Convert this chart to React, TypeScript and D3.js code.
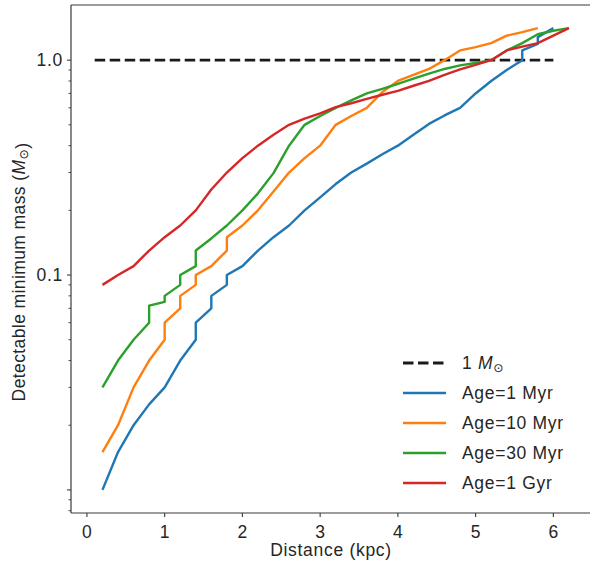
import React from "react";
import * as d3 from "d3";

const W = 590;
const H = 565;
const plot = { left: 71, right: 592.6, top: 5, bottom: 513 };

// Age = 1 Myr (repeated distances mark the vertical steps)
const distance1Myr = [0.2, 0.4, 0.6, 0.8, 1.0, 1.2, 1.4, 1.4, 1.6, 1.6, 1.8, 1.8, 2.0, 2.2, 2.4, 2.6, 2.8, 3.0, 3.2, 3.4, 3.6, 3.8, 4.0, 4.2, 4.4, 4.6, 4.8, 5.0, 5.2, 5.4, 5.6, 5.6, 5.8, 5.8, 6.0];
const mass1Myr = [0.01, 0.015, 0.02, 0.025, 0.03, 0.04, 0.05, 0.06, 0.07, 0.08, 0.09, 0.1, 0.11, 0.13, 0.15, 0.17, 0.2, 0.23, 0.265, 0.3, 0.33, 0.365, 0.4, 0.45, 0.505, 0.553, 0.6, 0.7, 0.8, 0.9, 1.0, 1.11, 1.19, 1.28, 1.41];

// Age = 10 Myr
const distance10Myr = [0.2, 0.4, 0.6, 0.8, 1.0, 1.0, 1.2, 1.2, 1.4, 1.4, 1.6, 1.8, 1.8, 2.0, 2.2, 2.4, 2.6, 2.8, 3.0, 3.2, 3.4, 3.6, 3.8, 4.0, 4.2, 4.4, 4.6, 4.8, 5.0, 5.2, 5.4, 5.6, 5.8];
const mass10Myr = [0.015, 0.02, 0.03, 0.04, 0.05, 0.06, 0.07, 0.08, 0.09, 0.1, 0.11, 0.13, 0.15, 0.17, 0.2, 0.245, 0.3, 0.35, 0.4, 0.5, 0.55, 0.6, 0.71, 0.8, 0.855, 0.91, 1.0, 1.11, 1.15, 1.2, 1.3, 1.35, 1.41];

// Age = 30 Myr
const distance30Myr = [0.2, 0.4, 0.6, 0.8, 0.8, 1.0, 1.0, 1.2, 1.2, 1.4, 1.4, 1.6, 1.8, 2.0, 2.2, 2.4, 2.6, 2.8, 3.0, 3.2, 3.4, 3.6, 3.8, 4.0, 4.2, 4.4, 4.6, 4.8, 5.0, 5.2, 5.4, 5.6, 5.8, 6.0, 6.2];
const mass30Myr = [0.03, 0.04, 0.05, 0.06, 0.072, 0.075, 0.08, 0.09, 0.1, 0.11, 0.13, 0.148, 0.17, 0.2, 0.24, 0.298, 0.4, 0.5, 0.55, 0.6, 0.65, 0.7, 0.735, 0.775, 0.82, 0.865, 0.91, 0.945, 0.97, 1.0, 1.11, 1.2, 1.32, 1.37, 1.41];

// Age = 1 Gyr
const distance1Gyr = [0.2, 0.4, 0.6, 0.8, 1.0, 1.2, 1.4, 1.6, 1.8, 2.0, 2.2, 2.4, 2.6, 2.8, 3.0, 3.2, 3.4, 3.6, 3.8, 4.0, 4.2, 4.4, 4.6, 4.8, 5.0, 5.2, 5.4, 5.6, 5.8, 6.0, 6.2];
const mass1Gyr = [0.09, 0.1, 0.11, 0.13, 0.15, 0.17, 0.2, 0.25, 0.3, 0.35, 0.4, 0.45, 0.5, 0.535, 0.565, 0.605, 0.63, 0.66, 0.69, 0.72, 0.76, 0.8, 0.855, 0.905, 0.95, 1.0, 1.11, 1.155, 1.2, 1.3, 1.41];

const seriesLabels = ["Age=1 Myr", "Age=10 Myr", "Age=30 Myr", "Age=1 Gyr"];
const seriesColors = ["#1f77b4", "#ff7f0e", "#2ca02c", "#d62728"];
const seriesDistances = [distance1Myr, distance10Myr, distance30Myr, distance1Gyr];
const seriesMasses = [mass1Myr, mass10Myr, mass30Myr, mass1Gyr];

// Reference line at one solar mass
const refDistances = [0.1, 6.0];
const refMass = 1.0;

const xTickValues = [0, 1, 2, 3, 4, 5, 6];
const yMajorValues = [0.01, 0.1, 1];
const yLabelValues = [0.1, 1];
const yLabelTexts = ["0.1", "1.0"];

const FONT = "'Liberation Sans', Arial, Helvetica, sans-serif";
const TEXT = "#262626";
const SPINE = "#3a3a3a";
const FS = 17.5;
const LS = 0.7;

function Msun({ size }: { size: number }) {
  return (
    <>
      <tspan fontStyle="italic">M</tspan>
      <tspan fontSize={size * 0.7} dy={size * 0.18} fontFamily="'DejaVu Sans', sans-serif">⊙</tspan>
      <tspan dy={-size * 0.18}></tspan>
    </>
  );
}

export default function App() {
  const allX = [...seriesDistances.flat(), ...refDistances];
  const allY = seriesMasses.flat();
  const [x0, x1] = d3.extent(allX) as [number, number];
  const xPad = (x1 - x0) * 0.05;
  const x = d3.scaleLinear().domain([x0 - xPad, x1 + xPad]).range([plot.left, plot.right]);

  const ly0 = Math.log10(d3.min(allY) as number);
  const ly1 = Math.log10(d3.max(allY) as number);
  const yPad = (ly1 - ly0) * 0.05;
  const y = d3
    .scaleLog()
    .domain([Math.pow(10, ly0 - yPad), Math.pow(10, ly1 + yPad)])
    .range([plot.bottom, plot.top]);

  const [yd0, yd1] = y.domain();
  const minorTicks: number[] = [];
  for (let e = -3; e <= 1; e++) {
    for (let k = 2; k <= 9; k++) {
      const v = k * Math.pow(10, e);
      if (v >= yd0 && v <= yd1) minorTicks.push(v);
    }
  }

  const line = d3
    .line<[number, number]>()
    .x((d) => x(d[0]))
    .y((d) => y(d[1]));

  const legendX0 = 403;
  const legendX1 = 446;
  const legendTextX = 462;
  const legendY0 = 363;
  const legendStep = 30;

  return (
    <svg
      width={W}
      height={H}
      style={{ position: "absolute", left: 0, top: 0, background: "#fff" }}
      fontFamily={FONT}
    >
      <rect x={0} y={0} width={W} height={H} fill="#fff" />
      <defs>
        <clipPath id="plotArea">
          <rect x={plot.left} y={plot.top} width={plot.right - plot.left} height={plot.bottom - plot.top} />
        </clipPath>
      </defs>

      <g clipPath="url(#plotArea)">
        <path
          d={line(refDistances.map((d) => [d, refMass]) as [number, number][]) || ""}
          fill="none"
          stroke="#1a1a1a"
          strokeWidth={2.8}
          strokeDasharray="10.5 4.5"
        />
        {seriesMasses.map((ms, i) => (
          <path
            key={seriesLabels[i]}
            d={line(ms.map((m, j) => [seriesDistances[i][j], m]) as [number, number][]) || ""}
            fill="none"
            stroke={seriesColors[i]}
            strokeWidth={2.4}
            strokeLinejoin="round"
            strokeLinecap="butt"
          />
        ))}
      </g>

      {/* spines */}
      <line x1={plot.left} x2={plot.left} y1={plot.top} y2={plot.bottom} stroke={SPINE} strokeWidth={1.2} />
      <line x1={plot.left} x2={plot.right} y1={plot.bottom} y2={plot.bottom} stroke={SPINE} strokeWidth={1.2} />
      <line x1={plot.left} x2={plot.right} y1={plot.top} y2={plot.top} stroke={SPINE} strokeWidth={1.2} />
      <line x1={plot.right} x2={plot.right} y1={plot.top} y2={plot.bottom} stroke={SPINE} strokeWidth={1.2} />

      {/* x ticks */}
      {xTickValues.map((v) => (
        <g key={`xt${v}`}>
          <line x1={x(v)} x2={x(v)} y1={plot.bottom} y2={plot.bottom + 4} stroke={SPINE} strokeWidth={1.1} />
          <text
            x={x(v)}
            y={537.5}
            textAnchor="middle"
            fontSize={FS}
            fill={TEXT}
          >
            {v}
          </text>
        </g>
      ))}

      {/* y ticks */}
      {yMajorValues.map((v) => (
        <line key={`ym${v}`} x1={plot.left - 4} x2={plot.left} y1={y(v)} y2={y(v)} stroke={SPINE} strokeWidth={1.1} />
      ))}
      {minorTicks.map((v) => (
        <line key={`yn${v}`} x1={plot.left - 2.5} x2={plot.left} y1={y(v)} y2={y(v)} stroke={SPINE} strokeWidth={0.9} />
      ))}
      {yLabelValues.map((v, i) => (
        <text
          key={`yl${v}`}
          x={63}
          y={y(v)}
          dy="0.36em"
          textAnchor="end"
          fontSize={FS}
          letterSpacing={LS}
          fill={TEXT}
        >
          {yLabelTexts[i]}
        </text>
      ))}

      {/* axis titles */}
      <text x={331} y={556} textAnchor="middle" fontSize={FS} letterSpacing={LS} fill={TEXT}>
        Distance (kpc)
      </text>
      <text
        transform={`translate(25,272) rotate(-90)`}
        textAnchor="middle"
        fontSize={FS}
        letterSpacing={0.4}
        fill={TEXT}
      >
        Detectable minimum mass (<Msun size={FS} />)
      </text>

      {/* legend */}
      <g>
        <line
          x1={legendX0}
          x2={legendX1}
          y1={legendY0}
          y2={legendY0}
          stroke="#1a1a1a"
          strokeWidth={2.8}
          strokeDasharray="10.5 4.5"
        />
        <text x={legendTextX} y={legendY0} dy="0.36em" fontSize={FS} letterSpacing={LS} fill={TEXT}>
          1 <Msun size={FS} />
        </text>
        {seriesLabels.map((lab, i) => {
          const yy = legendY0 + legendStep * (i + 1);
          return (
            <g key={`lg${lab}`}>
              <line x1={legendX0} x2={legendX1} y1={yy} y2={yy} stroke={seriesColors[i]} strokeWidth={2.4} />
              <text x={legendTextX} y={yy} dy="0.36em" fontSize={FS} letterSpacing={LS} fill={TEXT}>
                {lab}
              </text>
            </g>
          );
        })}
      </g>
    </svg>
  );
}
